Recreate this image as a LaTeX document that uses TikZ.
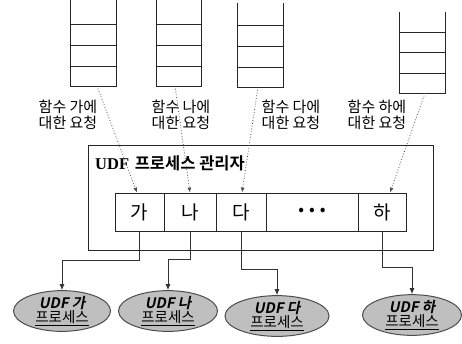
\documentclass[tikz,border=0pt]{standalone}
\usepackage{fontspec}
\setmainfont{Noto Sans CJK KR}
\newfontfamily\krslant[FakeSlant=0.2]{Noto Sans CJK KR Bold}
\newfontfamily\krbold{Noto Sans CJK KR Bold}
\newfontfamily\serifbold{Liberation Serif Bold}
\usetikzlibrary{arrows.meta,shapes.geometric}
\begin{document}
\begin{tikzpicture}[x=1pt,y=-1pt,
  ln/.style={draw=black!85,line width=0.9pt},
  cell/.style={ln,rectangle,inner sep=0pt,minimum height=38pt,font=\fontsize{19}{21}\selectfont},
  lbl/.style={align=left,inner sep=0pt,font=\fontsize{15}{16.5}\selectfont},
  req/.style={draw=black!70,line width=0.8pt,dotted,-{Latex[length=5pt,width=4pt]}},
  outarrow/.style={draw=black!80,line width=0.8pt,-{Latex[length=6pt,width=5pt]}},
  proc/.style={ellipse,draw=black!70,line width=1pt,fill=black!25,inner sep=0pt,align=center,font=\fontsize{14.5}{15.5}\selectfont}
]
\useasboundingbox (0,0) rectangle (462,343);
% stacks
\foreach \xl/\xr/\t/\a/\b/\c/\d in {70/116/0/24/45/66/86, 156/201/0/24/45/66/86, 237/283/3/25/46/67/87, 399/445/12/32/52/73/93}{
  \draw[ln] (\xl,\t) -- (\xl,\d) -- (\xr,\d) -- (\xr,\t);
  \draw[ln] (\xl,\a) -- (\xr,\a) (\xl,\b) -- (\xr,\b) (\xl,\c) -- (\xr,\c);
}
\coordinate (s1) at (97,86);
\coordinate (s2) at (175,86);
\coordinate (s3) at (258,87);
\coordinate (s4) at (425,93);
% labels
\node[lbl] (l1) at (68,115) {함수 가에\\대한 요청};
\node[lbl] (l2) at (181,115) {함수 나에\\대한 요청};
\node[lbl] (l3) at (291,115) {함수 다에\\대한 요청};
\node[lbl] (l4) at (377,115) {함수 하에\\대한 요청};
% manager box
\node[draw=black!85,line width=1pt,minimum width=345pt,minimum height=105pt,inner sep=0pt] (mgr) at (260.5,197.5) {};
\node[anchor=west,inner sep=0pt,font=\fontsize{16.5}{17}\selectfont] (title) at (95,163) {{\serifbold UDF}\hspace{2pt} \krbold 프로세스 관리자};
% cells
\node[cell,minimum width=49pt] (c1) at (139.5,212) {가};
\node[cell,minimum width=52pt] (c2) at (190,212) {나};
\node[cell,minimum width=50pt] (c3) at (241,212) {다};
\node[cell,minimum width=92pt] (cd) at (312,212) {\fontsize{17}{18}\selectfont •\hspace{5pt}•\hspace{5pt}•};
\node[cell,minimum width=48pt] (c4) at (382,212) {하};
% requests
\draw[req] (s1) -- ([xshift=-2.5pt]c1.north);
\draw[req] (s2) -- (c2.north);
\draw[req] (s3) -- ([xshift=1pt]c3.north);
\draw[req] (s4) -- ([xshift=8pt]c4.north);
% processes
\node[proc,minimum width=97pt,minimum height=32pt] (e1) at (62,311) {{\krslant UDF 가}\\[-2pt]\underline{프로세스}};
\node[proc,minimum width=99pt,minimum height=32pt] (e2) at (168,311) {{\krslant UDF 나}\\[-2pt]\underline{프로세스}};
\node[proc,minimum width=104pt,minimum height=35pt] (e3) at (277,316) {{\krslant UDF 다}\\[-2pt]\underline{프로세스}};
\node[proc,minimum width=99pt,minimum height=36pt] (e4) at (412,315) {{\krslant UDF 하}\\[-2pt]\underline{프로세스}};
\draw[outarrow] (c1.south) -- ++(0,29) -| (e1.north);
\draw[outarrow] (c2.south) -- ++(0,28) -| (e2.north);
\draw[outarrow] (c3.south) -- ++(0,38) -| (e3.north);
\draw[outarrow] (c4.south) -- ++(0,36) -| (e4.north);
\end{tikzpicture}
\end{document}
